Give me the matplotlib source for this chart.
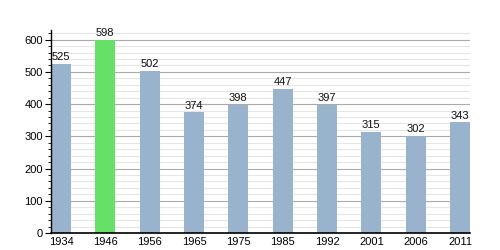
import matplotlib
matplotlib.use('Agg')
import matplotlib.pyplot as plt
from matplotlib.ticker import MultipleLocator

plt.rcParams['font.family'] = ['Liberation Sans', 'DejaVu Sans']

years = ['1934', '1946', '1956', '1965', '1975', '1985', '1992', '2001', '2006', '2011']
population = [525, 598, 502, 374, 398, 447, 397, 315, 302, 343]
highlight = '1946'

BLUE = '#9ab3cc'
GREEN = '#66e066'
WIDTH = 0.45

fig = plt.figure(figsize=(5, 2.5), dpi=100)
ax = fig.add_axes([0.102, 0.068, 0.838, 0.812])

x = list(range(len(years)))
colors = [GREEN if y == highlight else BLUE for y in years]

# grid first so the bars sit on top
ax.yaxis.set_major_locator(MultipleLocator(100))
ax.yaxis.set_minor_locator(MultipleLocator(20))
ax.grid(axis='y', which='major', color='#aaaaaa', linewidth=0.8)
ax.grid(axis='y', which='minor', color='#e6e6e6', linewidth=0.8)
ax.set_axisbelow(True)

ax.bar(x, population, width=WIDTH, color=colors, zorder=2)
for xi, v in zip(x, population):
    ax.text(xi, v + 6, str(v), ha='center', va='bottom', fontsize=8, color='#111111')

ax.set_xlim(-WIDTH / 2, len(years) - 1 + WIDTH / 2)
ax.set_ylim(0, 630)
ax.set_xticks(x)
ax.set_xticklabels(years)

for side in ['top', 'right']:
    ax.spines[side].set_visible(False)
ax.spines['left'].set_linewidth(1)
ax.spines['bottom'].set_linewidth(1.2)

ax.tick_params(axis='x', length=0, labelsize=8, pad=3)
ax.tick_params(axis='y', which='major', length=4, labelsize=8, pad=2)
ax.tick_params(axis='y', which='minor', length=2)

fig.savefig('out.png', dpi=100)
